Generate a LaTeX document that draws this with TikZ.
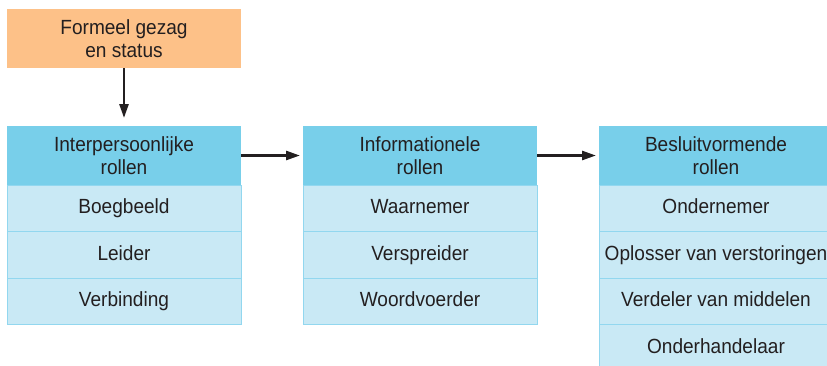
\documentclass[tikz,border=0pt]{standalone}
\usepackage{fontspec}
\setmainfont[FakeStretch=0.93]{Liberation Sans}
\usetikzlibrary{positioning,arrows.meta}

\definecolor{statusorange}{HTML}{FDC188}
\definecolor{headblue}{HTML}{78CFEA}
\definecolor{rowblue}{HTML}{C9E9F5}
\definecolor{rowline}{HTML}{92D7EF}
\definecolor{ink}{HTML}{231F20}

\tikzset{
  box/.style={minimum width=234pt, inner sep=0pt, outer sep=0pt, align=center, text=ink,
    font=\fontsize{20.5}{23}\selectfont},
  statusbox/.style={box, fill=statusorange, minimum height=59pt},
  headbox/.style={box, fill=headblue, minimum height=59pt},
  rolebox/.style={box, fill=rowblue, draw=rowline, line width=1pt, minimum height=46.5pt,
    text height=14.5pt, text depth=4pt},
  flow/.style={line width=2.6pt, draw=ink, -{Triangle[length=14pt,width=9pt]}},
}

\begin{document}
\begin{tikzpicture}[x=1pt, y=-1pt, node distance=0pt]
    \useasboundingbox (0, 0) rectangle (827, 365);
    % top box
    \node [statusbox] (status) at (124, 38.5) {Formeel gezag\\en status};
    % column headers
    \node [headbox, below=58pt of status] (inter) {Interpersoonlijke\\rollen};
    \node [headbox, right=62pt of inter] (info) {Informationele\\rollen};
    \node [headbox, right=62pt of info] (besluit) {Besluitvormende\\rollen};
    % interpersonal roles
    \node [rolebox, below=of inter] (boegbeeld) {Boegbeeld};
    \node [rolebox, below=of boegbeeld] (leider) {Leider};
    \node [rolebox, below=of leider] (verbinding) {Verbinding};
    % informational roles
    \node [rolebox, below=of info] (waarnemer) {Waarnemer};
    \node [rolebox, below=of waarnemer] (verspreider) {Verspreider};
    \node [rolebox, below=of verspreider] (woordvoerder) {Woordvoerder};
    % decision roles
    \node [rolebox, below=of besluit] (ondernemer) {Ondernemer};
    \node [rolebox, below=of ondernemer] (oplosser) {Oplosser van verstoringen};
    \node [rolebox, below=of oplosser] (verdeler) {Verdeler van middelen};
    \node [rolebox, below=of verdeler] (onderhandelaar) {Onderhandelaar};
    % arrows
    \draw [flow, shorten >=8pt] (status) -- (inter);
    \draw [flow, shorten >=3pt] (inter) -- (info);
    \draw [flow, shorten >=3pt] (info) -- (besluit);
\end{tikzpicture}
\end{document}
